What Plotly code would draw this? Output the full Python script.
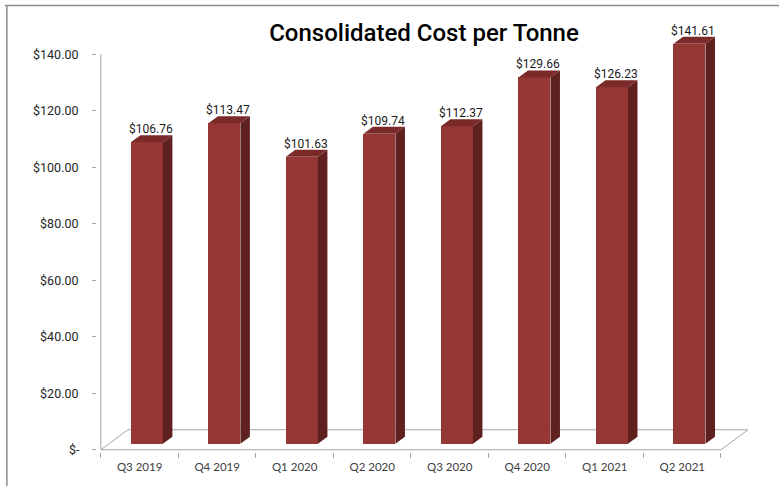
import plotly.graph_objects as go

# ---- data -------------------------------------------------------------
quarters = ["Q3 2019", "Q4 2019", "Q1 2020", "Q2 2020",
            "Q3 2020", "Q4 2020", "Q1 2021", "Q2 2021"]
cost_per_tonne = [106.76, 113.47, 101.63, 109.74, 112.37, 129.66, 126.23, 141.61]
y_tick_values = [0, 20, 40, 60, 80, 100, 120, 140]
y_tick_labels = ["$-"] + [f"${v:,.2f}" for v in y_tick_values[1:]]

# ---- page / scale geometry -----------------------------------------------
W, H = 779, 486
CAT_PX = 77.5          # pixels per category slot
VAL_PX = 2.829         # pixels per dollar
AXIS_LEFT_PX = 101     # pixel position of the category -0.5 boundary
AXIS_BASE_PX = 450     # pixel position of value 0
X_RANGE = (-0.55, 7.9)
Y_RANGE = (-0.8, 150)

m_l = AXIS_LEFT_PX - (-0.5 - X_RANGE[0]) * CAT_PX
plot_w = (X_RANGE[1] - X_RANGE[0]) * CAT_PX
m_r = W - m_l - plot_w
m_b = H - (AXIS_BASE_PX + (0 - Y_RANGE[0]) * VAL_PX)
plot_h = (Y_RANGE[1] - Y_RANGE[0]) * VAL_PX
m_t = H - m_b - plot_h

# 3-D look (expressed in axis units)
FLOOR_DX, FLOOR_DY = 27 / CAT_PX, 20 / VAL_PX
BAR_OFF, BAR_W = -8.75 / CAT_PX, 32 / CAT_PX
DEPTH_DX, DEPTH_DY = 9.5 / CAT_PX, 7 / VAL_PX
BASE = 6 / VAL_PX

FRONT = "#953735"
SIDE = "#5e2120"
TOP = "#7a2a28"
GRID = "#a6a6a6"
TICK_FONT = dict(family="Roboto", size=12.5, color="#262626")

n = len(quarters)
xs = list(range(n))


def px_to_paper_x(px):
    return (px - m_l) / plot_w


def px_to_paper_y(py):
    return (H - m_b - py) / plot_h


fig = go.Figure()

# floor of the 3-D box, kept beneath the columns
floor_pts = [(n - 0.5, 0), (-0.5, 0), (-0.5 + FLOOR_DX, FLOOR_DY),
             (n - 0.5 + FLOOR_DX, FLOOR_DY)]
floor_path = "M " + " L ".join(f"{x},{y}" for x, y in floor_pts) + " Z"
fig.add_shape(type="path", xref="x", yref="y", path=floor_path, layer="below",
              line=dict(color=GRID, width=1), fillcolor="rgba(0,0,0,0)")
# value axis line
fig.add_shape(type="line", xref="x", yref="y", x0=-0.5, x1=-0.5,
              y0=0, y1=y_tick_values[-1], layer="below",
              line=dict(color=GRID, width=1))

# front faces of the columns
fig.add_trace(go.Bar(x=xs, y=cost_per_tonne, base=BASE, width=BAR_W, offset=BAR_OFF,
                     marker=dict(color=FRONT, line=dict(width=0)),
                     showlegend=False))

# side and top faces
side_x, side_y, top_x, top_y = [], [], [], []
for x, v in zip(xs, cost_per_tonne):
    xl = x + BAR_OFF
    xr = xl + BAR_W
    top = BASE + v
    side_x += [xr, xr + DEPTH_DX, xr + DEPTH_DX, xr, xr, None]
    side_y += [BASE, BASE + DEPTH_DY, top + DEPTH_DY, top, BASE, None]
    top_x += [xl, xl + DEPTH_DX, xr + DEPTH_DX, xr, xl, None]
    top_y += [top, top + DEPTH_DY, top + DEPTH_DY, top, top, None]

fig.add_trace(go.Scatter(x=side_x, y=side_y, mode="lines", fill="toself",
                         fillcolor=SIDE, line=dict(width=0, color=SIDE),
                         hoverinfo="skip", showlegend=False))
fig.add_trace(go.Scatter(x=top_x, y=top_y, mode="lines", fill="toself",
                         fillcolor=TOP, line=dict(width=0, color=TOP),
                         hoverinfo="skip", showlegend=False))

# value labels
for x, v in zip(xs, cost_per_tonne):
    fig.add_annotation(x=x + BAR_OFF + BAR_W / 2 + DEPTH_DX * 0.4,
                       y=BASE + v + DEPTH_DY, yanchor="bottom", yshift=-3,
                       text=f"${v:,.2f}", showarrow=False,
                       font=dict(family="Roboto", size=12, color="#1a1a1a"))

# the zero label sits a little in from the others (accounting format)
fig.add_annotation(xref="paper", yref="y", x=px_to_paper_x(82), y=0,
                   xanchor="right", yanchor="middle", text=y_tick_labels[0],
                   showarrow=False, font=TICK_FONT)

# outer frame (top and left edges)
fig.add_shape(type="line", xref="paper", yref="paper",
              x0=px_to_paper_x(5), x1=px_to_paper_x(W + 5),
              y0=px_to_paper_y(5), y1=px_to_paper_y(5),
              line=dict(color="#8c8c8c", width=1.5))
fig.add_shape(type="line", xref="paper", yref="paper",
              x0=px_to_paper_x(7), x1=px_to_paper_x(7),
              y0=px_to_paper_y(5), y1=px_to_paper_y(H + 5),
              line=dict(color="#8c8c8c", width=1.5))

fig.update_layout(
    width=W, height=H,
    margin=dict(l=m_l, r=m_r, t=m_t, b=m_b, autoexpand=False),
    paper_bgcolor="white", plot_bgcolor="white",
    bargap=0,
    title=dict(text="Consolidated Cost per Tonne", x=424 / W, y=1 - 33 / H,
               xref="container", yref="container",
               xanchor="center", yanchor="middle",
               font=dict(family="Roboto", size=24, color="#000000", weight=500)),
    xaxis=dict(range=list(X_RANGE), tickmode="array", tickvals=xs, ticktext=quarters,
               ticks="", showline=False, showgrid=False, zeroline=False,
               ticklabelstandoff=6,
               tickfont=dict(family="Lato", size=11.5, color="#404040"),
               minor=dict(tickmode="array",
                          tickvals=[i - 0.5 for i in range(n + 1)],
                          ticks="outside", ticklen=5, tickcolor=GRID, showgrid=False),
               fixedrange=True),
    yaxis=dict(range=list(Y_RANGE), tickmode="array", tickvals=y_tick_values,
               ticktext=[""] + y_tick_labels[1:], ticks="outside", ticklen=4,
               tickcolor=GRID, showline=False, showgrid=False, zeroline=False,
               ticklabelstandoff=11, tickfont=TICK_FONT,
               fixedrange=True),
)

fig.write_html("out.html")
